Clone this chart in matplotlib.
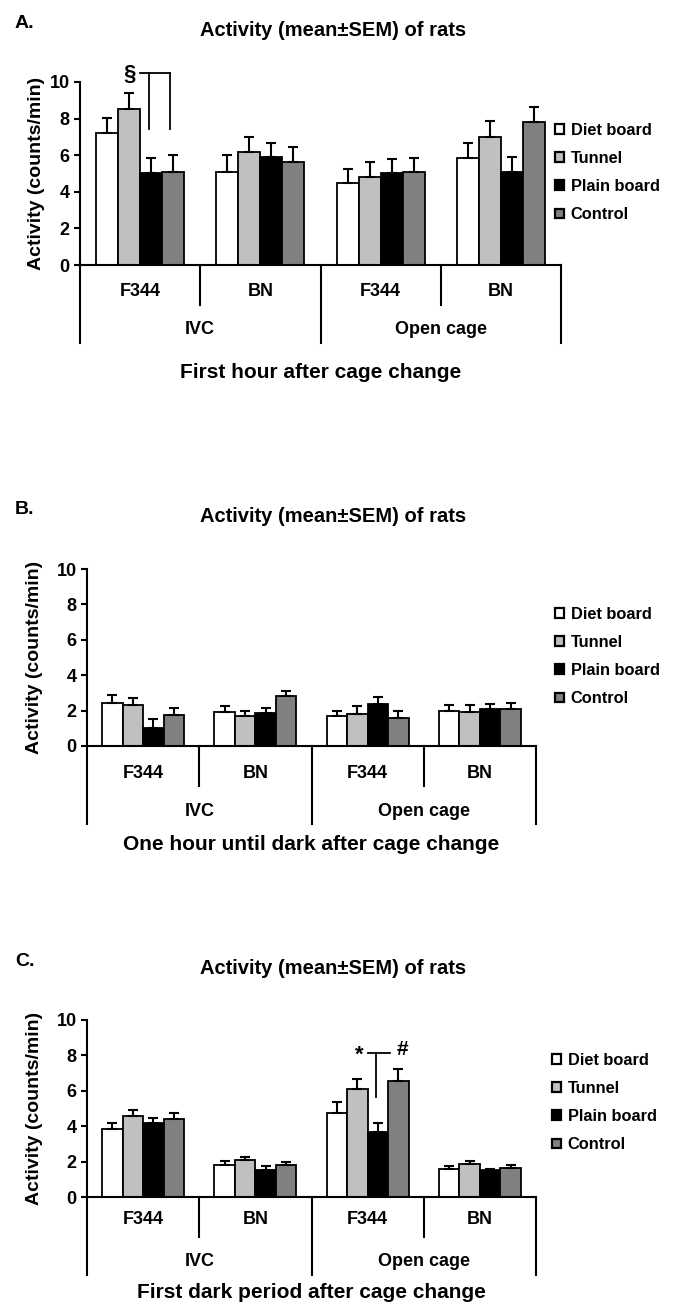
import numpy as np
import matplotlib.pyplot as plt

plt.rcParams['font.family'] = ['Liberation Sans', 'DejaVu Sans']
plt.rcParams['font.weight'] = 'bold'

treatments = ['Diet board', 'Tunnel', 'Plain board', 'Control']
strains = ['F344', 'BN', 'F344', 'BN']
cages = ['IVC', 'Open cage']
colors = ['white', '#c0c0c0', 'black', '#808080']

# rows: treatment, columns: IVC F344, IVC BN, Open F344, Open BN
a_mean = [[7.22, 5.10, 4.46, 5.85],
          [8.54, 6.16, 4.83, 7.01],
          [5.04, 5.88, 5.03, 5.10],
          [5.10, 5.61, 5.08, 7.83]]
a_sem = [[0.84, 0.90, 0.77, 0.83],
         [0.84, 0.84, 0.78, 0.84],
         [0.79, 0.80, 0.75, 0.82],
         [0.89, 0.85, 0.77, 0.82]]

b_mean = [[2.42, 1.92, 1.69, 1.98],
          [2.32, 1.70, 1.83, 1.94],
          [1.04, 1.85, 2.38, 2.08],
          [1.77, 2.81, 1.58, 2.08]]
b_sem = [[0.45, 0.36, 0.29, 0.34],
         [0.40, 0.28, 0.45, 0.38],
         [0.47, 0.32, 0.41, 0.30],
         [0.40, 0.30, 0.40, 0.37]]

c_mean = [[3.87, 1.79, 4.75, 1.57],
          [4.58, 2.09, 6.09, 1.87],
          [4.17, 1.53, 3.66, 1.51],
          [4.43, 1.79, 6.57, 1.66]]
c_sem = [[0.32, 0.25, 0.61, 0.17],
         [0.33, 0.17, 0.59, 0.17],
         [0.32, 0.21, 0.51, 0.06],
         [0.31, 0.17, 0.66, 0.17]]

W, H = 676, 1310
fig = plt.figure(figsize=(W / 100, H / 100), dpi=100)
w = 0.183
offs = (np.arange(4) - 1.5) * w


def fx(px):
    return px / W


def fy(py):
    return 1 - py / H


def panel(left, right, y0, y10, means, sems, letter, xlabel, xlab_y, leg_x, leg_y, strain_dy, ylab_x):
    ax = fig.add_axes([fx(left), fy(y0), fx(right - left), (y0 - y10) / H])
    h = y0 - y10
    x = np.arange(4)
    handles = []
    for i in range(4):
        b = ax.bar(x + offs[i], means[i], w, color=colors[i], edgecolor='black',
                   linewidth=1.3, zorder=2, label=treatments[i])
        ax.errorbar(x + offs[i], means[i], yerr=[np.zeros(4), sems[i]], fmt='none',
                    ecolor='black', elinewidth=1.5, capsize=3.5, capthick=1.5, zorder=3)
        handles.append(b)
    ax.set_xlim(-0.5, 3.5)
    ax.set_ylim(0, 10)
    ax.set_yticks(np.arange(0, 11, 2))
    ax.set_xticks([])
    ax.spines['top'].set_visible(False)
    ax.spines['right'].set_visible(False)
    ax.spines['left'].set_linewidth(1.5)
    ax.spines['bottom'].set_linewidth(1.5)
    ax.tick_params(axis='y', direction='out', length=4.5, width=1.5, labelsize=13, pad=3)
    ax.set_ylabel('Activity (counts/min)', fontsize=14, fontweight='bold')
    ax.yaxis.set_label_coords((ylab_x - left) / (right - left), 0.5)

    tr = ax.get_xaxis_transform()
    for xb in [0.5, 2.5]:
        ax.plot([xb, xb], [0, -40 / h], transform=tr, clip_on=False, color='black', lw=1.5)
    for xb in [-0.5, 1.5, 3.5]:
        ax.plot([xb, xb], [0, -78 / h], transform=tr, clip_on=False, color='black', lw=1.5)
    for i, s in enumerate(strains):
        ax.text(i, -strain_dy / h, s, transform=tr, ha='center', va='center', fontsize=13)
    for i, c in enumerate(cages):
        ax.text(2 * i + 0.5, -65 / h, c, transform=tr, ha='center', va='center', fontsize=13)

    fig.text(fx((left + right) / 2), fy(xlab_y), xlabel, ha='center', va='center', fontsize=15)
    fig.text(fx(15), fy(y10 - 59), letter, ha='left', va='center', fontsize=14)
    fig.text(fx(333), fy(y10 - 52), 'Activity (mean±SEM) of rats', ha='center', va='center', fontsize=14.5)

    leg = ax.legend(handles=handles, loc='upper left', bbox_to_anchor=(fx(leg_x), fy(leg_y)),
                    bbox_transform=fig.transFigure, frameon=False, borderpad=0, borderaxespad=0,
                    handlelength=0.55, handleheight=0.55, handletextpad=0.4, labelspacing=0.8,
                    prop={'size': 11.8, 'weight': 'bold'})
    for p in leg.get_patches():
        p.set_linewidth(1.6)
    return ax


axA = panel(80, 561, 265, 82, a_mean, a_sem, 'A.', 'First hour after cage change', 373, 555, 123, 27, 45)
axB = panel(87, 536, 746, 569, b_mean, b_sem, 'B.', 'One hour until dark after cage change', 845, 555, 607, 27, 43)
axC = panel(87, 536, 1197, 1020, c_mean, c_sem, 'C.', 'First dark period after cage change', 1293, 552, 1053, 23, 43)

# significance marks, panel A (F344 in IVC)
axA.plot([0.0, 0.25], [10.5, 10.5], color='black', lw=1.3, clip_on=False)
axA.plot([0.075, 0.075], [10.5, 7.45], color='black', lw=1.3, clip_on=False)
axA.plot([0.25, 0.25], [10.5, 7.45], color='black', lw=1.3, clip_on=False)
axA.text(offs[1], 10.1, '§', ha='center', va='baseline', fontsize=16)

# significance marks, panel C (F344 in open cage)
axC.plot([2.0, 2.2], [8.15, 8.15], color='black', lw=1.3)
axC.plot([2.075, 2.075], [8.15, 5.65], color='black', lw=1.3)
axC.text(2 + offs[1] + 0.02, 7.7, '*', ha='center', va='baseline', fontsize=16)
axC.text(2.31, 8.0, '#', ha='center', va='baseline', fontsize=15)

fig.savefig('out.png', dpi=100)
